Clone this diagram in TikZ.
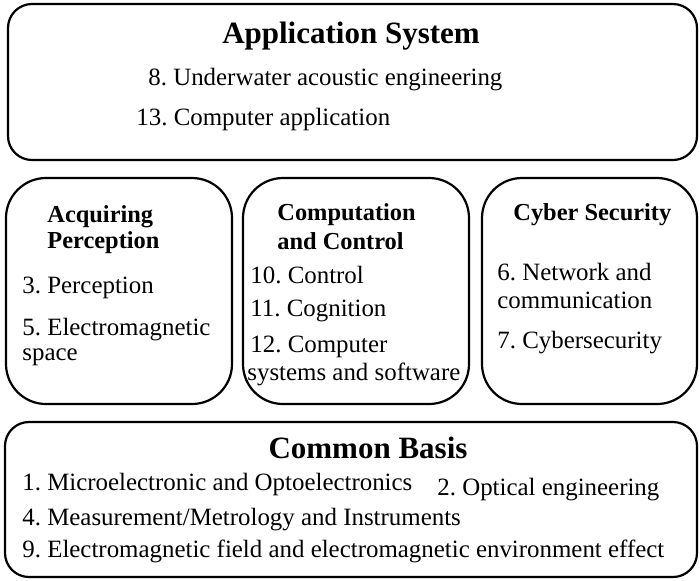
\documentclass[tikz,border=0pt]{standalone}
\usepackage{fontspec}
\setmainfont{Liberation Serif}
\frenchspacing
\tikzset{b/.style={draw, line width=1.1pt, rounded corners=12pt}}
\tikzset{bb/.style={b, rounded corners=20pt}}
\tikzset{h/.style={font=\fontsize{15.5}{15.5}\selectfont\bfseries, inner sep=0pt, anchor=base}}
\tikzset{s/.style={font=\fontsize{12.2}{12.2}\selectfont\bfseries, inner sep=0pt, anchor=base west}}
\tikzset{t/.style={font=\fontsize{12.45}{12.45}\selectfont, inner sep=0pt, anchor=base west}}

\begin{document}
\begin{tikzpicture}[x=0.5pt, y=-0.5pt]
        \useasboundingbox (0,0) rectangle (700,580);
        % boxes
        \draw[b] (8,4) rectangle (697,160);
        \draw[bb] (6,178) rectangle (232,404);
        \draw[bb] (243,178) rectangle (469,404);
        \draw[bb] (482,178) rectangle (697,404);
        \draw[b] (5,422) rectangle (697,577);
        % application system
        \node[h] (app) at (351,43) {Application System};
        \node[t] (app8) at (148,85) {8. Underwater acoustic engineering};
        \node[t] (app13) at (136,125) {13. Computer application};
        % acquiring perception
        \node[s] (acq) at (47,222) {Acquiring};
        \node[s] (acq2) at (47,248) {Perception};
        \node[t] (acq3) at (22,293) {3. Perception};
        \node[t] (acq5) at (22,335) {5. Electromagnetic};
        \node[t] (acq5b) at (22,360) {space};
        % computation and control
        \node[s] (cmp) at (277,220) {Computation};
        \node[s] (cmp2) at (277,249) {and Control};
        \node[t] (cmp10) at (250,283) {10. Control};
        \node[t] (cmp11) at (250,316) {11. Cognition};
        \node[t] (cmp12) at (250,352) {12. Computer};
        \node[t] (cmp12b) at (247,380) {systems and software};
        % cyber security
        \node[s] (cyb) at (513,220) {Cyber Security};
        \node[t] (cyb6) at (497,280) {6. Network and};
        \node[t] (cyb6b) at (497,308) {communication};
        \node[t] (cyb7) at (497,348) {7. Cybersecurity};
        % common basis
        \node[h] (base) at (368,458) {Common Basis};
        \node[t] (base1) at (22,490) {1. Microelectronic and Optoelectronics};
        \node[t] (base2) at (437,495) {2. Optical engineering};
        \node[t] (base4) at (22,525) {4. Measurement/Metrology and Instruments};
        \node[t] (base9) at (22,557) {9. Electromagnetic field and electromagnetic environment effect};
      \end{tikzpicture}
\end{document}
